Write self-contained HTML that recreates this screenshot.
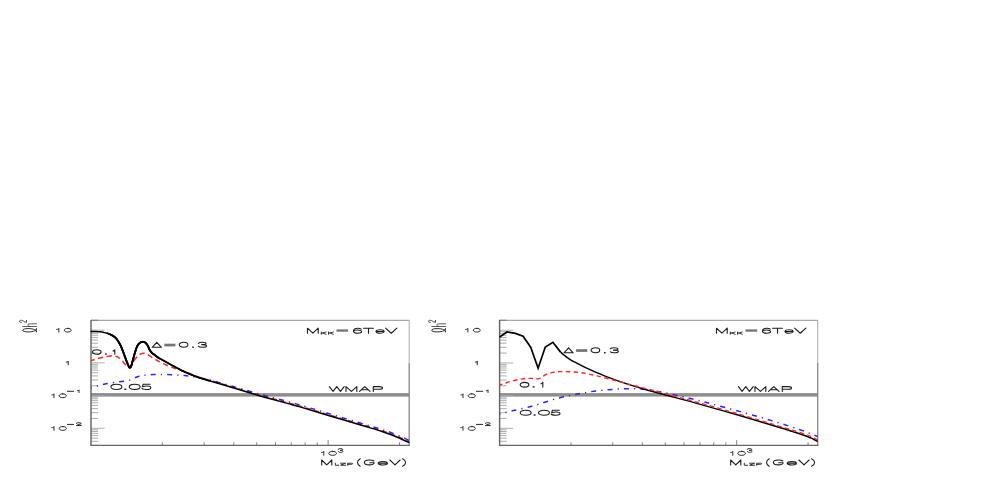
<!DOCTYPE html>
<html><head><meta charset="utf-8"><title>plot</title>
<style>
html,body{margin:0;padding:0;background:#fff;}
body{width:981px;height:499px;overflow:hidden;font-family:"Liberation Sans",sans-serif;}
svg{display:block;}
</style></head><body>
<svg width="981" height="499" viewBox="0 0 981 499">
<rect width="981" height="499" fill="#fff"/>
<defs><filter id="bl" x="0" y="0" width="981" height="499" filterUnits="userSpaceOnUse"><feGaussianBlur stdDeviation="0.4"/></filter></defs>
<g id="all" filter="url(#bl)">
<rect x="91.0" y="393.1" width="318.2" height="3.5" fill="#8e8e8e"/>
<line x1="91.0" y1="445.40" x2="98.0" y2="445.40" stroke="#a4a4a4" stroke-width="0.9"/>
<line x1="91.0" y1="441.31" x2="98.0" y2="441.31" stroke="#a4a4a4" stroke-width="0.9"/>
<line x1="91.0" y1="438.14" x2="98.0" y2="438.14" stroke="#a4a4a4" stroke-width="0.9"/>
<line x1="91.0" y1="435.55" x2="98.0" y2="435.55" stroke="#a4a4a4" stroke-width="0.9"/>
<line x1="91.0" y1="433.37" x2="98.0" y2="433.37" stroke="#a4a4a4" stroke-width="0.9"/>
<line x1="91.0" y1="431.47" x2="98.0" y2="431.47" stroke="#a4a4a4" stroke-width="0.9"/>
<line x1="91.0" y1="429.80" x2="98.0" y2="429.80" stroke="#a4a4a4" stroke-width="0.9"/>
<line x1="91.0" y1="428.30" x2="104.6" y2="428.30" stroke="#a6a6a6" stroke-width="0.9"/>
<line x1="91.0" y1="418.46" x2="98.0" y2="418.46" stroke="#a4a4a4" stroke-width="0.9"/>
<line x1="91.0" y1="412.70" x2="98.0" y2="412.70" stroke="#a4a4a4" stroke-width="0.9"/>
<line x1="91.0" y1="408.61" x2="98.0" y2="408.61" stroke="#a4a4a4" stroke-width="0.9"/>
<line x1="91.0" y1="405.44" x2="98.0" y2="405.44" stroke="#a4a4a4" stroke-width="0.9"/>
<line x1="91.0" y1="402.85" x2="98.0" y2="402.85" stroke="#a4a4a4" stroke-width="0.9"/>
<line x1="91.0" y1="400.67" x2="98.0" y2="400.67" stroke="#a4a4a4" stroke-width="0.9"/>
<line x1="91.0" y1="398.77" x2="98.0" y2="398.77" stroke="#a4a4a4" stroke-width="0.9"/>
<line x1="91.0" y1="397.10" x2="98.0" y2="397.10" stroke="#a4a4a4" stroke-width="0.9"/>
<line x1="91.0" y1="395.60" x2="104.6" y2="395.60" stroke="#a6a6a6" stroke-width="0.9"/>
<line x1="91.0" y1="385.76" x2="98.0" y2="385.76" stroke="#a4a4a4" stroke-width="0.9"/>
<line x1="91.0" y1="380.00" x2="98.0" y2="380.00" stroke="#a4a4a4" stroke-width="0.9"/>
<line x1="91.0" y1="375.91" x2="98.0" y2="375.91" stroke="#a4a4a4" stroke-width="0.9"/>
<line x1="91.0" y1="372.74" x2="98.0" y2="372.74" stroke="#a4a4a4" stroke-width="0.9"/>
<line x1="91.0" y1="370.15" x2="98.0" y2="370.15" stroke="#a4a4a4" stroke-width="0.9"/>
<line x1="91.0" y1="367.97" x2="98.0" y2="367.97" stroke="#a4a4a4" stroke-width="0.9"/>
<line x1="91.0" y1="366.07" x2="98.0" y2="366.07" stroke="#a4a4a4" stroke-width="0.9"/>
<line x1="91.0" y1="364.40" x2="98.0" y2="364.40" stroke="#a4a4a4" stroke-width="0.9"/>
<line x1="91.0" y1="362.90" x2="104.6" y2="362.90" stroke="#a6a6a6" stroke-width="0.9"/>
<line x1="91.0" y1="353.06" x2="98.0" y2="353.06" stroke="#a4a4a4" stroke-width="0.9"/>
<line x1="91.0" y1="347.30" x2="98.0" y2="347.30" stroke="#a4a4a4" stroke-width="0.9"/>
<line x1="91.0" y1="343.21" x2="98.0" y2="343.21" stroke="#a4a4a4" stroke-width="0.9"/>
<line x1="91.0" y1="340.04" x2="98.0" y2="340.04" stroke="#a4a4a4" stroke-width="0.9"/>
<line x1="91.0" y1="337.45" x2="98.0" y2="337.45" stroke="#a4a4a4" stroke-width="0.9"/>
<line x1="91.0" y1="335.27" x2="98.0" y2="335.27" stroke="#a4a4a4" stroke-width="0.9"/>
<line x1="91.0" y1="333.37" x2="98.0" y2="333.37" stroke="#a4a4a4" stroke-width="0.9"/>
<line x1="91.0" y1="331.70" x2="98.0" y2="331.70" stroke="#a4a4a4" stroke-width="0.9"/>
<line x1="91.0" y1="330.20" x2="104.6" y2="330.20" stroke="#a6a6a6" stroke-width="0.9"/>
<line x1="91.0" y1="320.36" x2="98.0" y2="320.36" stroke="#a4a4a4" stroke-width="0.9"/>
<line x1="162.37" y1="445.3" x2="162.37" y2="442.3" stroke="#777" stroke-width="0.9"/>
<line x1="204.13" y1="445.3" x2="204.13" y2="442.3" stroke="#777" stroke-width="0.9"/>
<line x1="233.75" y1="445.3" x2="233.75" y2="442.3" stroke="#777" stroke-width="0.9"/>
<line x1="256.73" y1="445.3" x2="256.73" y2="442.3" stroke="#777" stroke-width="0.9"/>
<line x1="275.50" y1="445.3" x2="275.50" y2="442.3" stroke="#777" stroke-width="0.9"/>
<line x1="291.37" y1="445.3" x2="291.37" y2="442.3" stroke="#777" stroke-width="0.9"/>
<line x1="305.12" y1="445.3" x2="305.12" y2="442.3" stroke="#777" stroke-width="0.9"/>
<line x1="317.25" y1="445.3" x2="317.25" y2="442.3" stroke="#777" stroke-width="0.9"/>
<line x1="328.10" y1="445.3" x2="328.10" y2="440.1" stroke="#777" stroke-width="0.9"/>
<line x1="399.47" y1="445.3" x2="399.47" y2="442.3" stroke="#777" stroke-width="0.9"/>
<line x1="91.0" y1="320.4" x2="409.2" y2="320.4" stroke="#a8a8a8" stroke-width="1.1"/>
<line x1="91.0" y1="320.4" x2="98.0" y2="320.4" stroke="#888" stroke-width="1.2"/>
<line x1="409.2" y1="319.9" x2="409.2" y2="363" stroke="#b0b0b0" stroke-width="1.1"/>
<line x1="409.2" y1="363" x2="409.2" y2="445.8" stroke="#868686" stroke-width="1.3"/>
<line x1="91.0" y1="319.9" x2="91.0" y2="445.8" stroke="#606060" stroke-width="1.4"/>
<line x1="90.4" y1="445.3" x2="409.8" y2="445.3" stroke="#666" stroke-width="1.2"/>
<path d="M91.0,360.5C91.8,360.2 94.2,359.5 96.0,359.0C97.8,358.5 100.3,358.0 102.0,357.6C103.7,357.2 104.6,356.9 106.0,356.6C107.4,356.3 109.3,356.0 110.6,355.9C111.9,355.8 113.0,355.8 114.0,355.9C115.0,356.0 115.7,356.2 116.5,356.5C117.3,356.8 118.2,357.2 119.0,357.8C119.8,358.4 120.8,358.9 121.6,359.8C122.4,360.7 123.2,361.9 124.0,363.0C124.8,364.1 126.0,365.4 126.7,366.1C127.5,366.8 127.9,367.1 128.5,367.3C129.1,367.5 129.5,367.7 130.1,367.2C130.7,366.7 131.3,365.6 132.0,364.4C132.7,363.2 133.6,361.4 134.4,360.1C135.2,358.8 136.2,357.7 137.0,356.8C137.8,355.9 138.7,355.2 139.5,354.6C140.3,354.1 141.2,353.7 142.0,353.5C142.8,353.3 143.8,353.2 144.6,353.3C145.4,353.4 146.2,353.8 147.0,354.2C147.8,354.6 148.7,355.3 149.7,355.9C150.7,356.5 151.8,357.3 153.0,358.0C154.2,358.7 155.3,359.3 156.6,360.1C157.9,360.9 159.3,361.7 161.0,362.6C162.7,363.5 165.0,364.5 166.8,365.3C168.6,366.1 170.3,366.8 172.0,367.4C173.7,368.0 174.8,368.5 177.0,369.2C179.2,369.9 181.8,370.4 185.0,371.6C188.2,372.8 192.4,374.8 196.5,376.3C200.6,377.8 205.4,379.1 209.8,380.4C214.2,381.7 218.6,382.9 223.0,384.2C227.4,385.5 231.9,386.8 236.3,388.1C240.7,389.4 245.1,390.7 249.5,392.0C253.9,393.3 258.4,394.6 262.8,395.9C267.2,397.1 271.6,398.3 276.0,399.5C280.4,400.7 285.3,402.0 289.3,403.1C293.3,404.2 293.6,404.2 300.0,406.1C306.4,408.0 316.9,411.2 327.6,414.4C338.3,417.6 355.1,422.5 364.0,425.2C372.9,427.9 377.0,429.1 381.3,430.5C385.6,431.9 387.1,432.3 390.0,433.4C392.9,434.5 396.3,435.9 398.6,436.9C400.9,437.9 402.2,438.5 404.0,439.3C405.8,440.1 408.3,441.3 409.2,441.7" fill="none" stroke="#ff2626" stroke-width="1.5" stroke-dasharray="5.2 3.6" stroke-dashoffset="1.5"/>
<path d="M91.0,387.9C92.3,387.5 95.9,386.4 98.6,385.7C101.3,385.0 103.7,384.2 107.1,383.6C110.5,383.0 115.9,382.2 119.1,381.8C122.2,381.4 124.2,381.2 126.0,380.9C127.8,380.6 128.9,380.5 130.1,380.1C131.3,379.7 132.0,379.1 133.0,378.6C134.0,378.1 135.1,377.6 136.1,377.2C137.1,376.8 137.9,376.5 139.0,376.2C140.1,375.9 141.4,375.7 142.9,375.5C144.4,375.3 146.3,375.0 148.0,374.9C149.7,374.8 151.1,374.7 153.1,374.6C155.1,374.5 157.7,374.4 160.0,374.4C162.3,374.4 164.1,374.5 166.8,374.6C169.5,374.7 173.0,374.8 176.0,375.0C179.0,375.2 181.6,375.2 185.0,375.6C188.4,376.0 192.4,376.5 196.5,377.2C200.6,377.9 205.4,378.9 209.8,380.0C214.2,381.1 218.6,382.4 223.0,383.6C227.4,384.8 231.9,386.1 236.3,387.4C240.7,388.7 245.1,389.9 249.5,391.2C253.9,392.5 258.4,393.8 262.8,395.0C267.2,396.2 271.6,397.3 276.0,398.5C280.4,399.7 285.3,400.9 289.3,402.0C293.3,403.1 293.6,403.1 300.0,405.0C306.4,406.9 316.9,410.1 327.6,413.3C338.3,416.5 355.1,421.4 364.0,424.1C372.9,426.8 377.0,428.0 381.3,429.3C385.6,430.6 387.1,431.1 390.0,432.2C392.9,433.3 396.3,434.7 398.6,435.7C400.9,436.7 402.2,437.3 404.0,438.1C405.8,438.9 408.3,440.1 409.2,440.5" fill="none" stroke="#2626ff" stroke-width="1.5" stroke-dasharray="5 5.1 1.2 5.1" stroke-dashoffset="4"/>
<path d="M90.6,331.4C91.5,331.4 94.4,331.4 96.0,331.5C97.6,331.6 98.7,331.7 100.0,331.8C101.3,331.9 102.8,332.1 104.0,332.4C105.2,332.6 106.3,332.9 107.4,333.3C108.5,333.7 109.5,334.1 110.6,334.6C111.7,335.1 113.0,335.8 114.0,336.5C115.0,337.2 115.7,337.9 116.5,338.8C117.3,339.8 118.1,341.0 118.8,342.2C119.5,343.4 120.0,344.2 120.8,345.9C121.6,347.6 122.6,350.3 123.4,352.5C124.2,354.7 125.1,357.2 125.9,359.3C126.7,361.4 127.4,363.5 128.0,364.8C128.6,366.1 128.9,366.9 129.3,367.3C129.7,367.7 130.2,367.9 130.6,367.3C131.0,366.8 131.3,365.6 131.8,364.0C132.3,362.4 133.0,359.5 133.6,357.4C134.2,355.3 134.7,353.3 135.3,351.5C135.9,349.7 136.4,348.0 137.0,346.7C137.6,345.4 138.1,344.6 138.7,343.9C139.3,343.2 139.8,342.8 140.4,342.5C141.0,342.2 141.6,342.0 142.2,341.9C142.8,341.8 143.2,341.8 143.8,341.9C144.4,342.0 144.9,342.3 145.5,342.8C146.1,343.3 146.7,344.1 147.2,344.8C147.7,345.6 148.1,346.5 148.5,347.3C148.9,348.1 149.2,349.1 149.7,349.9C150.1,350.7 150.6,351.4 151.2,352.0C151.8,352.6 152.0,352.9 153.1,353.8C154.2,354.7 156.5,356.4 157.9,357.4C159.3,358.4 159.6,358.5 161.7,359.6C163.8,360.8 166.6,362.4 170.2,364.3C173.8,366.2 178.9,369.2 183.3,371.3C187.7,373.4 192.1,375.1 196.5,376.7C200.9,378.3 205.4,379.5 209.8,380.9C214.2,382.2 218.6,383.5 223.0,384.8C227.4,386.1 231.9,387.5 236.3,388.8C240.7,390.1 245.1,391.5 249.5,392.8C253.9,394.1 258.4,395.4 262.8,396.7C267.2,397.9 271.6,399.1 276.0,400.3C280.4,401.5 285.3,402.8 289.3,403.9C293.3,405.0 293.6,405.0 300.0,406.9C306.4,408.8 316.9,412.0 327.6,415.2C338.3,418.4 355.1,423.3 364.0,426.0C372.9,428.7 377.0,429.9 381.3,431.3C385.6,432.7 387.1,433.2 390.0,434.3C392.9,435.4 396.3,436.8 398.6,437.8C400.9,438.8 402.2,439.4 404.0,440.2C405.8,441.0 408.3,442.2 409.2,442.6" fill="none" stroke="#000" stroke-width="1.5" stroke-linejoin="round"/>
<path d="M107.4,333.3C107.9,333.5 109.5,334.1 110.6,334.6C111.7,335.1 113.0,335.8 114.0,336.5C115.0,337.2 115.7,337.9 116.5,338.8C117.3,339.8 118.1,341.0 118.8,342.2C119.5,343.4 120.0,344.2 120.8,345.9C121.6,347.6 122.6,350.3 123.4,352.5C124.2,354.7 125.1,357.2 125.9,359.3C126.7,361.4 127.4,363.5 128.0,364.8C128.6,366.1 128.9,366.9 129.3,367.3C129.7,367.7 130.2,367.9 130.6,367.3C131.0,366.8 131.3,365.6 131.8,364.0C132.3,362.4 133.0,359.5 133.6,357.4C134.2,355.3 134.7,353.3 135.3,351.5C135.9,349.7 136.4,348.0 137.0,346.7C137.6,345.4 138.1,344.6 138.7,343.9C139.3,343.2 139.8,342.8 140.4,342.5C141.0,342.2 141.6,342.0 142.2,341.9C142.8,341.8 143.2,341.8 143.8,341.9C144.4,342.0 144.9,342.3 145.5,342.8C146.1,343.3 146.7,344.1 147.2,344.8C147.7,345.6 148.1,346.5 148.5,347.3C148.9,348.1 149.2,349.1 149.7,349.9C150.1,350.7 150.6,351.4 151.2,352.0C151.8,352.6 152.0,352.9 153.1,353.8C154.2,354.7 156.5,356.4 157.9,357.4C159.3,358.4 159.6,358.5 161.7,359.6C163.8,360.8 166.6,362.4 170.2,364.3C173.8,366.2 178.9,369.2 183.3,371.3C187.7,373.4 192.1,375.1 196.5,376.7C200.9,378.3 207.6,380.2 209.8,380.9" fill="none" stroke="#000" stroke-width="1.7" stroke-linejoin="round" stroke-linecap="round"/>
<path d="M110.6,334.6C111.2,334.9 113.0,335.8 114.0,336.5C115.0,337.2 115.7,337.9 116.5,338.8C117.3,339.8 118.1,341.0 118.8,342.2C119.5,343.4 120.0,344.2 120.8,345.9C121.6,347.6 122.6,350.3 123.4,352.5C124.2,354.7 125.1,357.2 125.9,359.3C126.7,361.4 127.4,363.5 128.0,364.8C128.6,366.1 128.9,366.9 129.3,367.3C129.7,367.7 130.2,367.9 130.6,367.3C131.0,366.8 131.3,365.6 131.8,364.0C132.3,362.4 133.0,359.5 133.6,357.4C134.2,355.3 134.7,353.3 135.3,351.5C135.9,349.7 136.4,348.0 137.0,346.7C137.6,345.4 138.1,344.6 138.7,343.9C139.3,343.2 139.8,342.8 140.4,342.5C141.0,342.2 141.6,342.0 142.2,341.9C142.8,341.8 143.2,341.8 143.8,341.9C144.4,342.0 144.9,342.3 145.5,342.8C146.1,343.3 146.7,344.1 147.2,344.8C147.7,345.6 148.1,346.5 148.5,347.3C148.9,348.1 149.2,349.1 149.7,349.9C150.1,350.7 150.6,351.4 151.2,352.0C151.8,352.6 152.0,352.9 153.1,353.8C154.2,354.7 157.1,356.8 157.9,357.4" fill="none" stroke="#000" stroke-width="1.95" stroke-linejoin="round" stroke-linecap="round"/>
<path d="M0,0.3 C0.45,0.28 0.8,0.18 0.85,0 L0.85,1" transform="matrix(2.600 0 0 3.700 56.65 328.35)" vector-effect="non-scaling-stroke" fill="none" stroke="#262626" stroke-width="1.0" stroke-linecap="round" stroke-linejoin="round"/>
<path d="M0.5,0 C0.78,0 1,0.22 1,0.5 C1,0.78 0.78,1 0.5,1 C0.22,1 0,0.78 0,0.5 C0,0.22 0.22,0 0.5,0 Z" transform="matrix(7.000 0 0 3.700 64.25 328.35)" vector-effect="non-scaling-stroke" fill="none" stroke="#262626" stroke-width="1.0" stroke-linecap="round" stroke-linejoin="round"/>
<path d="M0,0.3 C0.45,0.28 0.8,0.18 0.85,0 L0.85,1" transform="matrix(2.300 0 0 3.800 66.25 361.05)" vector-effect="non-scaling-stroke" fill="none" stroke="#262626" stroke-width="1.0" stroke-linecap="round" stroke-linejoin="round"/>
<path d="M0,0.3 C0.45,0.28 0.8,0.18 0.85,0 L0.85,1" transform="matrix(2.500 0 0 3.800 51.85 393.85)" vector-effect="non-scaling-stroke" fill="none" stroke="#262626" stroke-width="1.0" stroke-linecap="round" stroke-linejoin="round"/>
<path d="M0.5,0 C0.78,0 1,0.22 1,0.5 C1,0.78 0.78,1 0.5,1 C0.22,1 0,0.78 0,0.5 C0,0.22 0.22,0 0.5,0 Z" transform="matrix(7.200 0 0 3.800 59.15 393.85)" vector-effect="non-scaling-stroke" fill="none" stroke="#262626" stroke-width="1.0" stroke-linecap="round" stroke-linejoin="round"/>
<line x1="67.00" y1="391.30" x2="74.00" y2="391.30" stroke="#262626" stroke-width="1.0"/>
<path d="M0,0.3 C0.45,0.28 0.8,0.18 0.85,0 L0.85,1" transform="matrix(1.700 0 0 2.700 77.55 389.85)" vector-effect="non-scaling-stroke" fill="none" stroke="#262626" stroke-width="1.0" stroke-linecap="round" stroke-linejoin="round"/>
<path d="M0,0.3 C0.45,0.28 0.8,0.18 0.85,0 L0.85,1" transform="matrix(2.500 0 0 3.800 51.85 426.55)" vector-effect="non-scaling-stroke" fill="none" stroke="#262626" stroke-width="1.0" stroke-linecap="round" stroke-linejoin="round"/>
<path d="M0.5,0 C0.78,0 1,0.22 1,0.5 C1,0.78 0.78,1 0.5,1 C0.22,1 0,0.78 0,0.5 C0,0.22 0.22,0 0.5,0 Z" transform="matrix(7.200 0 0 3.800 59.15 426.55)" vector-effect="non-scaling-stroke" fill="none" stroke="#262626" stroke-width="1.0" stroke-linecap="round" stroke-linejoin="round"/>
<line x1="67.00" y1="424.40" x2="74.00" y2="424.40" stroke="#262626" stroke-width="1.0"/>
<path d="M0,0.27 C0,0.08 0.22,0 0.5,0 C0.8,0 1,0.1 1,0.28 C1,0.52 0.25,0.62 0,1 L1,1" transform="matrix(4.900 0 0 2.800 76.35 422.75)" vector-effect="non-scaling-stroke" fill="none" stroke="#262626" stroke-width="1.0" stroke-linecap="round" stroke-linejoin="round"/>
<path d="M0,0.3 C0.45,0.28 0.8,0.18 0.85,0 L0.85,1" transform="matrix(2.400 0 0 4.000 321.75 451.35)" vector-effect="non-scaling-stroke" fill="none" stroke="#262626" stroke-width="1.0" stroke-linecap="round" stroke-linejoin="round"/>
<path d="M0.5,0 C0.78,0 1,0.22 1,0.5 C1,0.78 0.78,1 0.5,1 C0.22,1 0,0.78 0,0.5 C0,0.22 0.22,0 0.5,0 Z" transform="matrix(7.700 0 0 4.000 328.75 451.35)" vector-effect="non-scaling-stroke" fill="none" stroke="#262626" stroke-width="1.0" stroke-linecap="round" stroke-linejoin="round"/>
<path d="M0,0.2 C0.08,0.06 0.28,0 0.5,0 C0.8,0 0.95,0.1 0.95,0.25 C0.95,0.4 0.72,0.47 0.4,0.47 C0.75,0.47 1,0.55 1,0.73 C1,0.9 0.8,1 0.5,1 C0.25,1 0.05,0.93 0,0.78" transform="matrix(4.900 0 0 3.800 338.15 448.55)" vector-effect="non-scaling-stroke" fill="none" stroke="#262626" stroke-width="1.0" stroke-linecap="round" stroke-linejoin="round"/>
<path d="M0,1 L0,0 L0.5,1 L1,0 L1,1" transform="matrix(10.130 0 0 4.930 321.69 459.99)" vector-effect="non-scaling-stroke" fill="none" stroke="#1c1c1c" stroke-width="1.1" stroke-linecap="round" stroke-linejoin="round"/>
<path d="M0,0 L0,1 L1,1" transform="matrix(3.270 0 0 2.070 335.31 463.21)" vector-effect="non-scaling-stroke" fill="none" stroke="#1c1c1c" stroke-width="0.9" stroke-linecap="round" stroke-linejoin="round"/>
<path d="M0,0 L1,0 L0,1 L1,1" transform="matrix(4.970 0 0 2.070 340.62 463.21)" vector-effect="non-scaling-stroke" fill="none" stroke="#1c1c1c" stroke-width="0.9" stroke-linecap="round" stroke-linejoin="round"/>
<path d="M0,1 L0,0 L0.65,0 C0.9,0 1,0.1 1,0.27 C1,0.45 0.9,0.54 0.65,0.54 L0,0.54" transform="matrix(4.970 0 0 2.070 347.71 463.21)" vector-effect="non-scaling-stroke" fill="none" stroke="#1c1c1c" stroke-width="0.9" stroke-linecap="round" stroke-linejoin="round"/>
<path d="M1,0 C0,0.3 0,0.7 1,1" transform="matrix(3.630 0 0 7.430 356.58 458.78)" vector-effect="non-scaling-stroke" fill="none" stroke="#1c1c1c" stroke-width="1.1" stroke-linecap="round" stroke-linejoin="round"/>
<path d="M0.97,0.2 C0.9,0.07 0.72,0 0.52,0 C0.2,0 0,0.2 0,0.5 C0,0.8 0.2,1 0.52,1 C0.8,1 1,0.85 1,0.55 L0.55,0.55" transform="matrix(9.730 0 0 4.930 364.38 459.99)" vector-effect="non-scaling-stroke" fill="none" stroke="#1c1c1c" stroke-width="1.1" stroke-linecap="round" stroke-linejoin="round"/>
<path d="M0,0.5 L1,0.5 C1,0.2 0.8,0 0.5,0 C0.2,0 0,0.2 0,0.5 C0,0.8 0.2,1 0.5,1 C0.72,1 0.9,0.9 0.97,0.72" transform="matrix(9.230 0 0 3.430 378.19 461.58)" vector-effect="non-scaling-stroke" fill="none" stroke="#1c1c1c" stroke-width="1.1" stroke-linecap="round" stroke-linejoin="round"/>
<path d="M0,0 L0.5,1 L1,0" transform="matrix(10.230 0 0 4.930 389.88 459.99)" vector-effect="non-scaling-stroke" fill="none" stroke="#1c1c1c" stroke-width="1.1" stroke-linecap="round" stroke-linejoin="round"/>
<path d="M0,0 C1,0.3 1,0.7 0,1" transform="matrix(4.030 0 0 7.430 402.58 458.78)" vector-effect="non-scaling-stroke" fill="none" stroke="#1c1c1c" stroke-width="1.1" stroke-linecap="round" stroke-linejoin="round"/>
<path d="M0,1 L0,0 L0.5,1 L1,0 L1,1" transform="matrix(10.730 0 0 5.030 307.49 328.19)" vector-effect="non-scaling-stroke" fill="none" stroke="#1c1c1c" stroke-width="1.1" stroke-linecap="round" stroke-linejoin="round"/>
<path d="M0,0 L0,1 M1,0 L0,0.6 M0.3,0.45 L1,1" transform="matrix(4.805 0 0 2.305 321.30 332.00)" vector-effect="non-scaling-stroke" fill="none" stroke="#1c1c1c" stroke-width="0.85" stroke-linecap="round" stroke-linejoin="round"/>
<path d="M0,0 L0,1 M1,0 L0,0.6 M0.3,0.45 L1,1" transform="matrix(4.805 0 0 2.305 328.50 332.00)" vector-effect="non-scaling-stroke" fill="none" stroke="#1c1c1c" stroke-width="0.85" stroke-linecap="round" stroke-linejoin="round"/>
<rect x="336.50" y="329.40" width="11.70" height="2.30" fill="#747474"/>
<path d="M0.95,0.17 C0.87,0.06 0.72,0 0.52,0 C0.2,0 0,0.2 0,0.55 C0,0.85 0.2,1 0.5,1 C0.8,1 1,0.87 1,0.67 C1,0.48 0.8,0.37 0.52,0.37 C0.25,0.37 0.05,0.48 0,0.62" transform="matrix(8.130 0 0 5.030 353.49 328.19)" vector-effect="non-scaling-stroke" fill="none" stroke="#1c1c1c" stroke-width="1.1" stroke-linecap="round" stroke-linejoin="round"/>
<path d="M0,0 L1,0 M0.5,0 L0.5,1" transform="matrix(9.830 0 0 5.030 363.58 328.19)" vector-effect="non-scaling-stroke" fill="none" stroke="#1c1c1c" stroke-width="1.1" stroke-linecap="round" stroke-linejoin="round"/>
<path d="M0,0.5 L1,0.5 C1,0.2 0.8,0 0.5,0 C0.2,0 0,0.2 0,0.5 C0,0.8 0.2,1 0.5,1 C0.72,1 0.9,0.9 0.97,0.72" transform="matrix(8.130 0 0 3.430 375.99 329.78)" vector-effect="non-scaling-stroke" fill="none" stroke="#1c1c1c" stroke-width="1.1" stroke-linecap="round" stroke-linejoin="round"/>
<path d="M0,0 L0.5,1 L1,0" transform="matrix(11.330 0 0 5.030 385.58 328.19)" vector-effect="non-scaling-stroke" fill="none" stroke="#1c1c1c" stroke-width="1.1" stroke-linecap="round" stroke-linejoin="round"/>
<path d="M0,0 L0.25,1 L0.5,0 L0.75,1 L1,0" transform="matrix(14.830 0 0 4.830 329.38 386.58)" vector-effect="non-scaling-stroke" fill="none" stroke="#1c1c1c" stroke-width="1.1" stroke-linecap="round" stroke-linejoin="round"/>
<path d="M0,1 L0,0 L0.5,1 L1,0 L1,1" transform="matrix(10.830 0 0 4.830 345.99 386.58)" vector-effect="non-scaling-stroke" fill="none" stroke="#1c1c1c" stroke-width="1.1" stroke-linecap="round" stroke-linejoin="round"/>
<path d="M0,1 L0.5,0 L1,1 M0.18,0.66 L0.82,0.66" transform="matrix(10.430 0 0 4.830 359.58 386.58)" vector-effect="non-scaling-stroke" fill="none" stroke="#1c1c1c" stroke-width="1.1" stroke-linecap="round" stroke-linejoin="round"/>
<path d="M0,1 L0,0 L0.65,0 C0.9,0 1,0.1 1,0.27 C1,0.45 0.9,0.54 0.65,0.54 L0,0.54" transform="matrix(9.230 0 0 4.830 373.28 386.58)" vector-effect="non-scaling-stroke" fill="none" stroke="#1c1c1c" stroke-width="1.1" stroke-linecap="round" stroke-linejoin="round"/>
<path d="M0,1 L0.36,1 L0.36,0.88 C0.1,0.76 0,0.6 0,0.4 C0,0.15 0.2,0 0.5,0 C0.8,0 1,0.15 1,0.4 C1,0.6 0.9,0.76 0.64,0.88 L0.64,1 L1,1" transform="matrix(0 -3.300 13.800 0 22.70 331.90)" vector-effect="non-scaling-stroke" fill="none" stroke="#2a2a2a" stroke-width="1.0" stroke-linecap="round" stroke-linejoin="round"/>
<path d="M0,0 L0,1 M0,0.52 C0.15,0.42 0.3,0.36 0.55,0.36 C0.85,0.36 1,0.45 1,0.62 L1,1" transform="matrix(0 -2.700 13.700 0 22.80 326.50)" vector-effect="non-scaling-stroke" fill="none" stroke="#4a4a4a" stroke-width="0.9" stroke-linecap="round" stroke-linejoin="round"/>
<path d="M0,0.27 C0,0.08 0.22,0 0.5,0 C0.8,0 1,0.1 1,0.28 C1,0.52 0.25,0.62 0,1 L1,1" transform="matrix(0 -2.100 7.100 0 19.40 322.40)" vector-effect="non-scaling-stroke" fill="none" stroke="#333" stroke-width="0.9" stroke-linecap="round" stroke-linejoin="round"/>
<path d="M0.5,0 C0.78,0 1,0.22 1,0.5 C1,0.78 0.78,1 0.5,1 C0.22,1 0,0.78 0,0.5 C0,0.22 0.22,0 0.5,0 Z" transform="matrix(8.630 0 0 4.530 92.48 349.69)" vector-effect="non-scaling-stroke" fill="none" stroke="#1c1c1c" stroke-width="1.1" stroke-linecap="round" stroke-linejoin="round"/>
<rect x="105.00" y="353.40" width="1.80" height="1.30" fill="#1c1c1c"/>
<path d="M0,0.3 C0.45,0.28 0.8,0.18 0.85,0 L0.85,1" transform="matrix(2.130 0 0 4.530 112.98 349.69)" vector-effect="non-scaling-stroke" fill="none" stroke="#1c1c1c" stroke-width="1.1" stroke-linecap="round" stroke-linejoin="round"/>
<path d="M0.5,0 C0.78,0 1,0.22 1,0.5 C1,0.78 0.78,1 0.5,1 C0.22,1 0,0.78 0,0.5 C0,0.22 0.22,0 0.5,0 Z" transform="matrix(10.930 0 0 5.330 110.89 384.19)" vector-effect="non-scaling-stroke" fill="none" stroke="#1c1c1c" stroke-width="1.1" stroke-linecap="round" stroke-linejoin="round"/>
<rect x="124.40" y="388.60" width="1.90" height="1.40" fill="#1c1c1c"/>
<path d="M0.5,0 C0.78,0 1,0.22 1,0.5 C1,0.78 0.78,1 0.5,1 C0.22,1 0,0.78 0,0.5 C0,0.22 0.22,0 0.5,0 Z" transform="matrix(10.930 0 0 5.330 129.19 384.19)" vector-effect="non-scaling-stroke" fill="none" stroke="#1c1c1c" stroke-width="1.1" stroke-linecap="round" stroke-linejoin="round"/>
<path d="M0.92,0 L0.13,0 L0.05,0.48 C0.2,0.38 0.35,0.35 0.55,0.35 C0.8,0.35 1,0.47 1,0.67 C1,0.87 0.8,1 0.5,1 C0.25,1 0.05,0.93 0,0.78" transform="matrix(8.830 0 0 5.330 141.98 384.19)" vector-effect="non-scaling-stroke" fill="none" stroke="#1c1c1c" stroke-width="1.1" stroke-linecap="round" stroke-linejoin="round"/>
<path d="M0.5,0 L1,1 L0,1 Z" transform="matrix(9.230 0 0 5.030 152.19 342.28)" vector-effect="non-scaling-stroke" fill="none" stroke="#1c1c1c" stroke-width="1.1" stroke-linecap="round" stroke-linejoin="round"/>
<rect x="164.30" y="343.70" width="11.10" height="2.70" fill="#747474"/>
<path d="M0.5,0 C0.78,0 1,0.22 1,0.5 C1,0.78 0.78,1 0.5,1 C0.22,1 0,0.78 0,0.5 C0,0.22 0.22,0 0.5,0 Z" transform="matrix(8.630 0 0 5.030 179.28 342.28)" vector-effect="non-scaling-stroke" fill="none" stroke="#1c1c1c" stroke-width="1.1" stroke-linecap="round" stroke-linejoin="round"/>
<rect x="192.20" y="346.50" width="1.60" height="1.40" fill="#1c1c1c"/>
<path d="M0,0.2 C0.08,0.06 0.28,0 0.5,0 C0.8,0 0.95,0.1 0.95,0.25 C0.95,0.4 0.72,0.47 0.4,0.47 C0.75,0.47 1,0.55 1,0.73 C1,0.9 0.8,1 0.5,1 C0.25,1 0.05,0.93 0,0.78" transform="matrix(8.030 0 0 5.030 198.48 342.28)" vector-effect="non-scaling-stroke" fill="none" stroke="#1c1c1c" stroke-width="1.1" stroke-linecap="round" stroke-linejoin="round"/>
<rect x="499.6" y="393.1" width="318.1" height="3.5" fill="#8e8e8e"/>
<line x1="499.6" y1="445.40" x2="506.6" y2="445.40" stroke="#a4a4a4" stroke-width="0.9"/>
<line x1="499.6" y1="441.31" x2="506.6" y2="441.31" stroke="#a4a4a4" stroke-width="0.9"/>
<line x1="499.6" y1="438.14" x2="506.6" y2="438.14" stroke="#a4a4a4" stroke-width="0.9"/>
<line x1="499.6" y1="435.55" x2="506.6" y2="435.55" stroke="#a4a4a4" stroke-width="0.9"/>
<line x1="499.6" y1="433.37" x2="506.6" y2="433.37" stroke="#a4a4a4" stroke-width="0.9"/>
<line x1="499.6" y1="431.47" x2="506.6" y2="431.47" stroke="#a4a4a4" stroke-width="0.9"/>
<line x1="499.6" y1="429.80" x2="506.6" y2="429.80" stroke="#a4a4a4" stroke-width="0.9"/>
<line x1="499.6" y1="428.30" x2="513.2" y2="428.30" stroke="#a6a6a6" stroke-width="0.9"/>
<line x1="499.6" y1="418.46" x2="506.6" y2="418.46" stroke="#a4a4a4" stroke-width="0.9"/>
<line x1="499.6" y1="412.70" x2="506.6" y2="412.70" stroke="#a4a4a4" stroke-width="0.9"/>
<line x1="499.6" y1="408.61" x2="506.6" y2="408.61" stroke="#a4a4a4" stroke-width="0.9"/>
<line x1="499.6" y1="405.44" x2="506.6" y2="405.44" stroke="#a4a4a4" stroke-width="0.9"/>
<line x1="499.6" y1="402.85" x2="506.6" y2="402.85" stroke="#a4a4a4" stroke-width="0.9"/>
<line x1="499.6" y1="400.67" x2="506.6" y2="400.67" stroke="#a4a4a4" stroke-width="0.9"/>
<line x1="499.6" y1="398.77" x2="506.6" y2="398.77" stroke="#a4a4a4" stroke-width="0.9"/>
<line x1="499.6" y1="397.10" x2="506.6" y2="397.10" stroke="#a4a4a4" stroke-width="0.9"/>
<line x1="499.6" y1="395.60" x2="513.2" y2="395.60" stroke="#a6a6a6" stroke-width="0.9"/>
<line x1="499.6" y1="385.76" x2="506.6" y2="385.76" stroke="#a4a4a4" stroke-width="0.9"/>
<line x1="499.6" y1="380.00" x2="506.6" y2="380.00" stroke="#a4a4a4" stroke-width="0.9"/>
<line x1="499.6" y1="375.91" x2="506.6" y2="375.91" stroke="#a4a4a4" stroke-width="0.9"/>
<line x1="499.6" y1="372.74" x2="506.6" y2="372.74" stroke="#a4a4a4" stroke-width="0.9"/>
<line x1="499.6" y1="370.15" x2="506.6" y2="370.15" stroke="#a4a4a4" stroke-width="0.9"/>
<line x1="499.6" y1="367.97" x2="506.6" y2="367.97" stroke="#a4a4a4" stroke-width="0.9"/>
<line x1="499.6" y1="366.07" x2="506.6" y2="366.07" stroke="#a4a4a4" stroke-width="0.9"/>
<line x1="499.6" y1="364.40" x2="506.6" y2="364.40" stroke="#a4a4a4" stroke-width="0.9"/>
<line x1="499.6" y1="362.90" x2="513.2" y2="362.90" stroke="#a6a6a6" stroke-width="0.9"/>
<line x1="499.6" y1="353.06" x2="506.6" y2="353.06" stroke="#a4a4a4" stroke-width="0.9"/>
<line x1="499.6" y1="347.30" x2="506.6" y2="347.30" stroke="#a4a4a4" stroke-width="0.9"/>
<line x1="499.6" y1="343.21" x2="506.6" y2="343.21" stroke="#a4a4a4" stroke-width="0.9"/>
<line x1="499.6" y1="340.04" x2="506.6" y2="340.04" stroke="#a4a4a4" stroke-width="0.9"/>
<line x1="499.6" y1="337.45" x2="506.6" y2="337.45" stroke="#a4a4a4" stroke-width="0.9"/>
<line x1="499.6" y1="335.27" x2="506.6" y2="335.27" stroke="#a4a4a4" stroke-width="0.9"/>
<line x1="499.6" y1="333.37" x2="506.6" y2="333.37" stroke="#a4a4a4" stroke-width="0.9"/>
<line x1="499.6" y1="331.70" x2="506.6" y2="331.70" stroke="#a4a4a4" stroke-width="0.9"/>
<line x1="499.6" y1="330.20" x2="513.2" y2="330.20" stroke="#a6a6a6" stroke-width="0.9"/>
<line x1="499.6" y1="320.36" x2="506.6" y2="320.36" stroke="#a4a4a4" stroke-width="0.9"/>
<line x1="570.97" y1="445.3" x2="570.97" y2="442.3" stroke="#777" stroke-width="0.9"/>
<line x1="612.73" y1="445.3" x2="612.73" y2="442.3" stroke="#777" stroke-width="0.9"/>
<line x1="642.35" y1="445.3" x2="642.35" y2="442.3" stroke="#777" stroke-width="0.9"/>
<line x1="665.33" y1="445.3" x2="665.33" y2="442.3" stroke="#777" stroke-width="0.9"/>
<line x1="684.10" y1="445.3" x2="684.10" y2="442.3" stroke="#777" stroke-width="0.9"/>
<line x1="699.97" y1="445.3" x2="699.97" y2="442.3" stroke="#777" stroke-width="0.9"/>
<line x1="713.72" y1="445.3" x2="713.72" y2="442.3" stroke="#777" stroke-width="0.9"/>
<line x1="725.85" y1="445.3" x2="725.85" y2="442.3" stroke="#777" stroke-width="0.9"/>
<line x1="736.70" y1="445.3" x2="736.70" y2="440.1" stroke="#777" stroke-width="0.9"/>
<line x1="808.07" y1="445.3" x2="808.07" y2="442.3" stroke="#777" stroke-width="0.9"/>
<line x1="499.6" y1="320.4" x2="817.7" y2="320.4" stroke="#a8a8a8" stroke-width="1.1"/>
<line x1="499.6" y1="320.4" x2="506.6" y2="320.4" stroke="#888" stroke-width="1.2"/>
<line x1="817.7" y1="319.9" x2="817.7" y2="363" stroke="#b0b0b0" stroke-width="1.1"/>
<line x1="817.7" y1="363" x2="817.7" y2="445.8" stroke="#868686" stroke-width="1.3"/>
<line x1="499.6" y1="319.9" x2="499.6" y2="445.8" stroke="#606060" stroke-width="1.4"/>
<line x1="499.0" y1="445.3" x2="818.3000000000001" y2="445.3" stroke="#666" stroke-width="1.2"/>
<path d="M499.6,414.0C501.6,413.5 507.0,412.0 511.3,411.0C515.6,410.0 520.8,409.1 525.6,407.9C530.4,406.7 534.8,405.3 539.9,403.8C545.0,402.3 550.8,400.1 556.2,398.7C561.6,397.2 567.1,396.2 572.5,395.1C577.9,394.0 583.4,392.9 588.8,392.0C594.2,391.1 599.7,390.5 605.1,390.0C610.5,389.5 616.0,389.1 621.4,388.9C626.8,388.7 633.0,388.7 637.7,388.9C642.5,389.1 645.8,389.6 649.9,390.2C654.0,390.8 657.4,391.3 662.2,392.2C667.0,393.1 673.0,394.5 678.5,395.7C684.0,396.9 689.4,398.2 695.0,399.6C700.6,401.0 705.0,402.1 712.0,404.0C719.0,405.9 728.4,408.4 737.1,410.8C745.8,413.2 755.2,415.8 764.0,418.4C772.8,421.0 782.8,424.1 790.0,426.4C797.2,428.7 802.7,430.7 807.3,432.4C811.9,434.1 816.0,435.9 817.7,436.6" fill="none" stroke="#2626ff" stroke-width="1.5" stroke-dasharray="5 5.1 1.2 5.1" stroke-dashoffset="4"/>
<path d="M499.6,337.1L506.9,332.0L515.4,333.4L523.1,336.3L530.8,347.4L538.1,368.2L545.3,347.0L552.9,342.3L560.6,352.1" fill="none" stroke="#000" stroke-width="1.7" stroke-linejoin="miter"/>
<path d="M560.6,352.1C561.3,352.7 563.4,354.6 565.0,355.8C566.6,357.1 567.7,358.1 570.2,359.6C572.7,361.1 577.5,363.5 580.2,364.9C583.0,366.3 584.2,367.0 586.7,368.2C589.2,369.4 591.6,370.4 595.0,371.8C598.4,373.2 601.7,374.8 607.1,376.9C612.5,378.9 620.7,381.9 627.5,384.1C634.3,386.3 641.1,388.3 647.9,390.2C654.7,392.1 660.4,393.6 668.3,395.7C676.1,397.8 683.5,399.7 695.0,402.9C706.5,406.1 722.7,410.6 737.1,414.8C751.5,419.0 771.6,425.1 781.3,428.0C790.9,430.9 790.7,430.9 795.0,432.3C799.3,433.7 804.3,435.4 807.3,436.5C810.3,437.6 811.3,438.2 813.0,439.0C814.7,439.8 816.9,441.0 817.7,441.4" fill="none" stroke="#000" stroke-width="1.45"/>
<path d="M499.6,385.0C500.5,384.7 503.1,383.9 505.0,383.3C506.9,382.7 509.0,381.8 511.3,381.2C513.6,380.6 516.5,379.9 518.9,379.5C521.3,379.1 523.4,378.7 525.6,378.5C527.8,378.3 529.8,378.3 532.0,378.4C534.2,378.4 536.9,379.0 538.6,378.8C540.3,378.6 540.8,377.7 542.0,377.0C543.2,376.3 544.5,375.2 546.0,374.5C547.5,373.8 549.5,373.1 551.2,372.7C552.9,372.3 554.6,372.1 556.2,371.9C557.8,371.7 559.3,371.7 561.0,371.6C562.7,371.6 564.4,371.6 566.4,371.6C568.4,371.7 570.6,371.7 573.0,371.9C575.4,372.1 578.1,372.3 580.6,372.6C583.1,372.9 585.3,373.3 588.0,373.9C590.7,374.4 592.7,374.9 596.9,375.9C601.1,376.9 607.8,378.6 613.2,380.0C618.7,381.4 624.2,383.0 629.6,384.4C635.0,385.8 640.5,387.2 645.9,388.6C651.3,390.0 656.8,391.4 662.2,392.8C667.6,394.2 673.0,395.7 678.5,397.2C684.0,398.7 685.2,399.0 695.0,401.7C704.8,404.4 722.7,409.4 737.1,413.6C751.5,417.8 771.6,423.9 781.3,426.8C790.9,429.7 790.7,429.6 795.0,431.0C799.3,432.4 804.3,434.1 807.3,435.2C810.3,436.3 811.3,436.8 813.0,437.6C814.7,438.4 816.9,439.5 817.7,439.9" fill="none" stroke="#ff2626" stroke-width="1.4" stroke-dasharray="4.5 3.3" stroke-dashoffset="1.5"/>
<path d="M0,0.3 C0.45,0.28 0.8,0.18 0.85,0 L0.85,1" transform="matrix(2.600 0 0 3.700 465.65 328.35)" vector-effect="non-scaling-stroke" fill="none" stroke="#262626" stroke-width="1.0" stroke-linecap="round" stroke-linejoin="round"/>
<path d="M0.5,0 C0.78,0 1,0.22 1,0.5 C1,0.78 0.78,1 0.5,1 C0.22,1 0,0.78 0,0.5 C0,0.22 0.22,0 0.5,0 Z" transform="matrix(7.000 0 0 3.700 473.25 328.35)" vector-effect="non-scaling-stroke" fill="none" stroke="#262626" stroke-width="1.0" stroke-linecap="round" stroke-linejoin="round"/>
<path d="M0,0.3 C0.45,0.28 0.8,0.18 0.85,0 L0.85,1" transform="matrix(2.300 0 0 3.800 475.25 361.05)" vector-effect="non-scaling-stroke" fill="none" stroke="#262626" stroke-width="1.0" stroke-linecap="round" stroke-linejoin="round"/>
<path d="M0,0.3 C0.45,0.28 0.8,0.18 0.85,0 L0.85,1" transform="matrix(2.500 0 0 3.800 460.85 393.85)" vector-effect="non-scaling-stroke" fill="none" stroke="#262626" stroke-width="1.0" stroke-linecap="round" stroke-linejoin="round"/>
<path d="M0.5,0 C0.78,0 1,0.22 1,0.5 C1,0.78 0.78,1 0.5,1 C0.22,1 0,0.78 0,0.5 C0,0.22 0.22,0 0.5,0 Z" transform="matrix(7.200 0 0 3.800 468.15 393.85)" vector-effect="non-scaling-stroke" fill="none" stroke="#262626" stroke-width="1.0" stroke-linecap="round" stroke-linejoin="round"/>
<line x1="476.00" y1="391.30" x2="483.00" y2="391.30" stroke="#262626" stroke-width="1.0"/>
<path d="M0,0.3 C0.45,0.28 0.8,0.18 0.85,0 L0.85,1" transform="matrix(1.700 0 0 2.700 486.55 389.85)" vector-effect="non-scaling-stroke" fill="none" stroke="#262626" stroke-width="1.0" stroke-linecap="round" stroke-linejoin="round"/>
<path d="M0,0.3 C0.45,0.28 0.8,0.18 0.85,0 L0.85,1" transform="matrix(2.500 0 0 3.800 460.85 426.55)" vector-effect="non-scaling-stroke" fill="none" stroke="#262626" stroke-width="1.0" stroke-linecap="round" stroke-linejoin="round"/>
<path d="M0.5,0 C0.78,0 1,0.22 1,0.5 C1,0.78 0.78,1 0.5,1 C0.22,1 0,0.78 0,0.5 C0,0.22 0.22,0 0.5,0 Z" transform="matrix(7.200 0 0 3.800 468.15 426.55)" vector-effect="non-scaling-stroke" fill="none" stroke="#262626" stroke-width="1.0" stroke-linecap="round" stroke-linejoin="round"/>
<line x1="476.00" y1="424.40" x2="483.00" y2="424.40" stroke="#262626" stroke-width="1.0"/>
<path d="M0,0.27 C0,0.08 0.22,0 0.5,0 C0.8,0 1,0.1 1,0.28 C1,0.52 0.25,0.62 0,1 L1,1" transform="matrix(4.900 0 0 2.800 485.35 422.75)" vector-effect="non-scaling-stroke" fill="none" stroke="#262626" stroke-width="1.0" stroke-linecap="round" stroke-linejoin="round"/>
<path d="M0,0.3 C0.45,0.28 0.8,0.18 0.85,0 L0.85,1" transform="matrix(2.400 0 0 4.000 730.75 451.35)" vector-effect="non-scaling-stroke" fill="none" stroke="#262626" stroke-width="1.0" stroke-linecap="round" stroke-linejoin="round"/>
<path d="M0.5,0 C0.78,0 1,0.22 1,0.5 C1,0.78 0.78,1 0.5,1 C0.22,1 0,0.78 0,0.5 C0,0.22 0.22,0 0.5,0 Z" transform="matrix(7.700 0 0 4.000 737.75 451.35)" vector-effect="non-scaling-stroke" fill="none" stroke="#262626" stroke-width="1.0" stroke-linecap="round" stroke-linejoin="round"/>
<path d="M0,0.2 C0.08,0.06 0.28,0 0.5,0 C0.8,0 0.95,0.1 0.95,0.25 C0.95,0.4 0.72,0.47 0.4,0.47 C0.75,0.47 1,0.55 1,0.73 C1,0.9 0.8,1 0.5,1 C0.25,1 0.05,0.93 0,0.78" transform="matrix(4.900 0 0 3.800 747.15 448.55)" vector-effect="non-scaling-stroke" fill="none" stroke="#262626" stroke-width="1.0" stroke-linecap="round" stroke-linejoin="round"/>
<path d="M0,1 L0,0 L0.5,1 L1,0 L1,1" transform="matrix(10.130 0 0 4.930 730.68 459.99)" vector-effect="non-scaling-stroke" fill="none" stroke="#1c1c1c" stroke-width="1.1" stroke-linecap="round" stroke-linejoin="round"/>
<path d="M0,0 L0,1 L1,1" transform="matrix(3.270 0 0 2.070 744.32 463.21)" vector-effect="non-scaling-stroke" fill="none" stroke="#1c1c1c" stroke-width="0.9" stroke-linecap="round" stroke-linejoin="round"/>
<path d="M0,0 L1,0 L0,1 L1,1" transform="matrix(4.970 0 0 2.070 749.62 463.21)" vector-effect="non-scaling-stroke" fill="none" stroke="#1c1c1c" stroke-width="0.9" stroke-linecap="round" stroke-linejoin="round"/>
<path d="M0,1 L0,0 L0.65,0 C0.9,0 1,0.1 1,0.27 C1,0.45 0.9,0.54 0.65,0.54 L0,0.54" transform="matrix(4.970 0 0 2.070 756.72 463.21)" vector-effect="non-scaling-stroke" fill="none" stroke="#1c1c1c" stroke-width="0.9" stroke-linecap="round" stroke-linejoin="round"/>
<path d="M1,0 C0,0.3 0,0.7 1,1" transform="matrix(3.630 0 0 7.430 765.59 458.78)" vector-effect="non-scaling-stroke" fill="none" stroke="#1c1c1c" stroke-width="1.1" stroke-linecap="round" stroke-linejoin="round"/>
<path d="M0.97,0.2 C0.9,0.07 0.72,0 0.52,0 C0.2,0 0,0.2 0,0.5 C0,0.8 0.2,1 0.52,1 C0.8,1 1,0.85 1,0.55 L0.55,0.55" transform="matrix(9.730 0 0 4.930 773.38 459.99)" vector-effect="non-scaling-stroke" fill="none" stroke="#1c1c1c" stroke-width="1.1" stroke-linecap="round" stroke-linejoin="round"/>
<path d="M0,0.5 L1,0.5 C1,0.2 0.8,0 0.5,0 C0.2,0 0,0.2 0,0.5 C0,0.8 0.2,1 0.5,1 C0.72,1 0.9,0.9 0.97,0.72" transform="matrix(9.230 0 0 3.430 787.18 461.58)" vector-effect="non-scaling-stroke" fill="none" stroke="#1c1c1c" stroke-width="1.1" stroke-linecap="round" stroke-linejoin="round"/>
<path d="M0,0 L0.5,1 L1,0" transform="matrix(10.230 0 0 4.930 798.88 459.99)" vector-effect="non-scaling-stroke" fill="none" stroke="#1c1c1c" stroke-width="1.1" stroke-linecap="round" stroke-linejoin="round"/>
<path d="M0,0 C1,0.3 1,0.7 0,1" transform="matrix(4.030 0 0 7.430 811.59 458.78)" vector-effect="non-scaling-stroke" fill="none" stroke="#1c1c1c" stroke-width="1.1" stroke-linecap="round" stroke-linejoin="round"/>
<path d="M0,1 L0,0 L0.5,1 L1,0 L1,1" transform="matrix(10.730 0 0 5.030 716.49 328.19)" vector-effect="non-scaling-stroke" fill="none" stroke="#1c1c1c" stroke-width="1.1" stroke-linecap="round" stroke-linejoin="round"/>
<path d="M0,0 L0,1 M1,0 L0,0.6 M0.3,0.45 L1,1" transform="matrix(4.805 0 0 2.305 730.30 332.00)" vector-effect="non-scaling-stroke" fill="none" stroke="#1c1c1c" stroke-width="0.85" stroke-linecap="round" stroke-linejoin="round"/>
<path d="M0,0 L0,1 M1,0 L0,0.6 M0.3,0.45 L1,1" transform="matrix(4.805 0 0 2.305 737.50 332.00)" vector-effect="non-scaling-stroke" fill="none" stroke="#1c1c1c" stroke-width="0.85" stroke-linecap="round" stroke-linejoin="round"/>
<rect x="745.50" y="329.40" width="11.70" height="2.30" fill="#747474"/>
<path d="M0.95,0.17 C0.87,0.06 0.72,0 0.52,0 C0.2,0 0,0.2 0,0.55 C0,0.85 0.2,1 0.5,1 C0.8,1 1,0.87 1,0.67 C1,0.48 0.8,0.37 0.52,0.37 C0.25,0.37 0.05,0.48 0,0.62" transform="matrix(8.130 0 0 5.030 762.49 328.19)" vector-effect="non-scaling-stroke" fill="none" stroke="#1c1c1c" stroke-width="1.1" stroke-linecap="round" stroke-linejoin="round"/>
<path d="M0,0 L1,0 M0.5,0 L0.5,1" transform="matrix(9.830 0 0 5.030 772.59 328.19)" vector-effect="non-scaling-stroke" fill="none" stroke="#1c1c1c" stroke-width="1.1" stroke-linecap="round" stroke-linejoin="round"/>
<path d="M0,0.5 L1,0.5 C1,0.2 0.8,0 0.5,0 C0.2,0 0,0.2 0,0.5 C0,0.8 0.2,1 0.5,1 C0.72,1 0.9,0.9 0.97,0.72" transform="matrix(8.130 0 0 3.430 784.99 329.78)" vector-effect="non-scaling-stroke" fill="none" stroke="#1c1c1c" stroke-width="1.1" stroke-linecap="round" stroke-linejoin="round"/>
<path d="M0,0 L0.5,1 L1,0" transform="matrix(11.330 0 0 5.030 794.59 328.19)" vector-effect="non-scaling-stroke" fill="none" stroke="#1c1c1c" stroke-width="1.1" stroke-linecap="round" stroke-linejoin="round"/>
<path d="M0,0 L0.25,1 L0.5,0 L0.75,1 L1,0" transform="matrix(14.830 0 0 4.830 738.38 386.58)" vector-effect="non-scaling-stroke" fill="none" stroke="#1c1c1c" stroke-width="1.1" stroke-linecap="round" stroke-linejoin="round"/>
<path d="M0,1 L0,0 L0.5,1 L1,0 L1,1" transform="matrix(10.830 0 0 4.830 754.99 386.58)" vector-effect="non-scaling-stroke" fill="none" stroke="#1c1c1c" stroke-width="1.1" stroke-linecap="round" stroke-linejoin="round"/>
<path d="M0,1 L0.5,0 L1,1 M0.18,0.66 L0.82,0.66" transform="matrix(10.430 0 0 4.830 768.59 386.58)" vector-effect="non-scaling-stroke" fill="none" stroke="#1c1c1c" stroke-width="1.1" stroke-linecap="round" stroke-linejoin="round"/>
<path d="M0,1 L0,0 L0.65,0 C0.9,0 1,0.1 1,0.27 C1,0.45 0.9,0.54 0.65,0.54 L0,0.54" transform="matrix(9.230 0 0 4.830 782.28 386.58)" vector-effect="non-scaling-stroke" fill="none" stroke="#1c1c1c" stroke-width="1.1" stroke-linecap="round" stroke-linejoin="round"/>
<path d="M0,1 L0.36,1 L0.36,0.88 C0.1,0.76 0,0.6 0,0.4 C0,0.15 0.2,0 0.5,0 C0.8,0 1,0.15 1,0.4 C1,0.6 0.9,0.76 0.64,0.88 L0.64,1 L1,1" transform="matrix(0 -3.300 13.800 0 431.70 331.90)" vector-effect="non-scaling-stroke" fill="none" stroke="#2a2a2a" stroke-width="1.0" stroke-linecap="round" stroke-linejoin="round"/>
<path d="M0,0 L0,1 M0,0.52 C0.15,0.42 0.3,0.36 0.55,0.36 C0.85,0.36 1,0.45 1,0.62 L1,1" transform="matrix(0 -2.700 13.700 0 431.80 326.50)" vector-effect="non-scaling-stroke" fill="none" stroke="#4a4a4a" stroke-width="0.9" stroke-linecap="round" stroke-linejoin="round"/>
<path d="M0,0.27 C0,0.08 0.22,0 0.5,0 C0.8,0 1,0.1 1,0.28 C1,0.52 0.25,0.62 0,1 L1,1" transform="matrix(0 -2.100 7.100 0 428.40 322.40)" vector-effect="non-scaling-stroke" fill="none" stroke="#333" stroke-width="0.9" stroke-linecap="round" stroke-linejoin="round"/>
<path d="M0.5,0 C0.78,0 1,0.22 1,0.5 C1,0.78 0.78,1 0.5,1 C0.22,1 0,0.78 0,0.5 C0,0.22 0.22,0 0.5,0 Z" transform="matrix(8.630 0 0 4.730 520.18 382.38)" vector-effect="non-scaling-stroke" fill="none" stroke="#1c1c1c" stroke-width="1.1" stroke-linecap="round" stroke-linejoin="round"/>
<rect x="532.70" y="386.20" width="1.80" height="1.40" fill="#1c1c1c"/>
<path d="M0,0.3 C0.45,0.28 0.8,0.18 0.85,0 L0.85,1" transform="matrix(2.130 0 0 4.730 540.99 382.38)" vector-effect="non-scaling-stroke" fill="none" stroke="#1c1c1c" stroke-width="1.1" stroke-linecap="round" stroke-linejoin="round"/>
<path d="M0.5,0 C0.78,0 1,0.22 1,0.5 C1,0.78 0.78,1 0.5,1 C0.22,1 0,0.78 0,0.5 C0,0.22 0.22,0 0.5,0 Z" transform="matrix(10.930 0 0 4.930 520.18 410.28)" vector-effect="non-scaling-stroke" fill="none" stroke="#1c1c1c" stroke-width="1.1" stroke-linecap="round" stroke-linejoin="round"/>
<rect x="533.70" y="414.30" width="1.90" height="1.40" fill="#1c1c1c"/>
<path d="M0.5,0 C0.78,0 1,0.22 1,0.5 C1,0.78 0.78,1 0.5,1 C0.22,1 0,0.78 0,0.5 C0,0.22 0.22,0 0.5,0 Z" transform="matrix(10.930 0 0 4.930 538.49 410.28)" vector-effect="non-scaling-stroke" fill="none" stroke="#1c1c1c" stroke-width="1.1" stroke-linecap="round" stroke-linejoin="round"/>
<path d="M0.92,0 L0.13,0 L0.05,0.48 C0.2,0.38 0.35,0.35 0.55,0.35 C0.8,0.35 1,0.47 1,0.67 C1,0.87 0.8,1 0.5,1 C0.25,1 0.05,0.93 0,0.78" transform="matrix(8.730 0 0 4.930 551.28 410.28)" vector-effect="non-scaling-stroke" fill="none" stroke="#1c1c1c" stroke-width="1.1" stroke-linecap="round" stroke-linejoin="round"/>
<path d="M0.5,0 L1,1 L0,1 Z" transform="matrix(9.230 0 0 5.030 563.99 347.78)" vector-effect="non-scaling-stroke" fill="none" stroke="#1c1c1c" stroke-width="1.1" stroke-linecap="round" stroke-linejoin="round"/>
<rect x="576.10" y="349.20" width="11.10" height="2.70" fill="#747474"/>
<path d="M0.5,0 C0.78,0 1,0.22 1,0.5 C1,0.78 0.78,1 0.5,1 C0.22,1 0,0.78 0,0.5 C0,0.22 0.22,0 0.5,0 Z" transform="matrix(8.630 0 0 5.030 591.09 347.78)" vector-effect="non-scaling-stroke" fill="none" stroke="#1c1c1c" stroke-width="1.1" stroke-linecap="round" stroke-linejoin="round"/>
<rect x="604.00" y="352.00" width="1.60" height="1.40" fill="#1c1c1c"/>
<path d="M0,0.2 C0.08,0.06 0.28,0 0.5,0 C0.8,0 0.95,0.1 0.95,0.25 C0.95,0.4 0.72,0.47 0.4,0.47 C0.75,0.47 1,0.55 1,0.73 C1,0.9 0.8,1 0.5,1 C0.25,1 0.05,0.93 0,0.78" transform="matrix(8.030 0 0 5.030 610.28 347.78)" vector-effect="non-scaling-stroke" fill="none" stroke="#1c1c1c" stroke-width="1.1" stroke-linecap="round" stroke-linejoin="round"/>
</g>
</svg>
</body></html>
